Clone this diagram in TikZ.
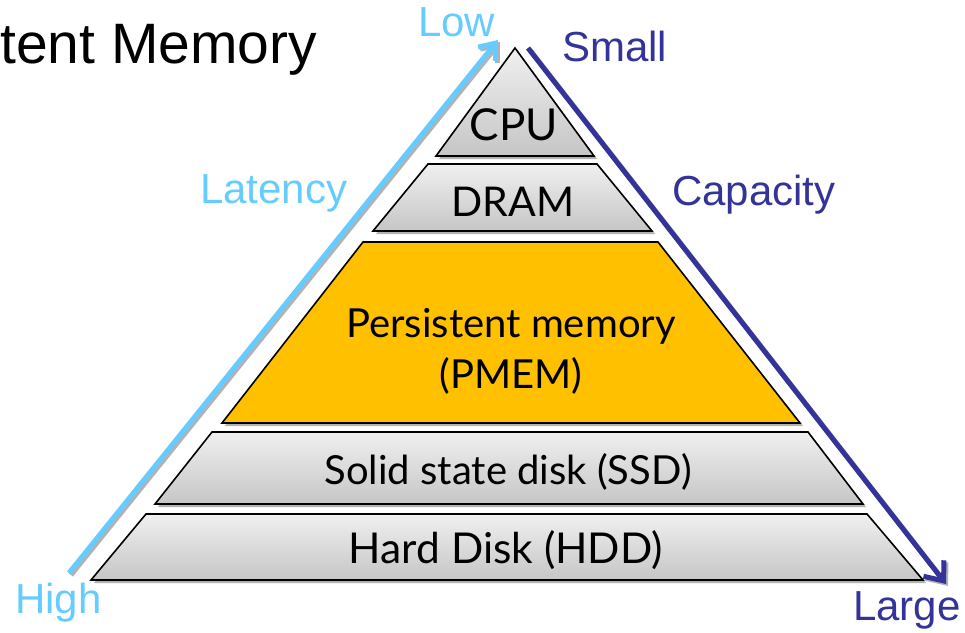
\documentclass[tikz,border=0pt]{standalone}
\usepackage{fontspec}
\setmainfont{Liberation Sans}
\newfontfamily\layerfont{Lato}
\usetikzlibrary{arrows.meta,shadows}
\definecolor{latblue}{HTML}{66CCFF}
\definecolor{capblue}{HTML}{333399}
\definecolor{pmemfill}{HTML}{FFC000}
\tikzset{
  layershape/.style={draw=black, line width=1.6pt, line join=miter,
    drop shadow={shadow xshift=3pt, shadow yshift=-3pt, opacity=0.3, fill=black}},
  graylayer/.style={layershape, top color=gray!12, bottom color=gray!45},
  pmemlayer/.style={layershape, fill=pmemfill},
  layertext/.style={font=\layerfont\fontsize{40}{48}\selectfont, text=black, inner sep=0pt, anchor=base, align=center},
  sidelabel/.style={font=\fontsize{42}{48}\selectfont, inner sep=0pt, anchor=base west},
  axisarrow/.style={line width=5pt, preaction={draw=black!30, line width=5pt, transform canvas={xshift=2pt,yshift=-2pt}}},
}
\begin{document}
\begin{tikzpicture}[x=1pt,y=-1pt]
\useasboundingbox (0,0) rectangle (965,632);
% title (the part that the slide shows)
\node[font=\fontsize{57}{64}\selectfont, inner sep=0pt, anchor=base west] (title) at (0,63) {tent Memory};
% layers
\path[graylayer] (146,514) -- (867,514) -- (923,580) -- (91,580) -- cycle;
\path[graylayer] (212,432) -- (808,432) -- (863,504) -- (155,504) -- cycle;
\path[pmemlayer] (363,242) -- (658,242) -- (800,423) -- (222,423) -- cycle;
\path[graylayer] (428,164) -- (597,164) -- (652,231) -- (373,231) -- cycle;
\path[graylayer] (515,48) -- (594,156) -- (436,156) -- cycle;
% layer texts
\node[layertext, font=\layerfont\fontsize{44}{48}\selectfont] (cpu) at (514,140) {CPU};
\node[layertext, font=\layerfont\fontsize{41}{48}\selectfont] (dram) at (513,216) {DRAM};
\node[layertext] (pmem) at (511,337) {Persistent memory};
\node[layertext] (pmemb) at (511,388) {(PMEM)};
\node[layertext] (ssd) at (508,484) {Solid state disk (SSD)};
\node[layertext, font=\layerfont\fontsize{42.5}{48}\selectfont] (hdd) at (506,563) {Hard Disk (HDD)};
% axes
\coordinate (latlow) at (69,573);
\coordinate (lathigh) at (498,40);
\coordinate (capsmall) at (528,48);
\coordinate (caplarge) at (946,584);
\draw[axisarrow, latblue, -{Straight Barb[length=14pt,width=22pt,line width=5pt]}] (latlow) -- (lathigh);
\draw[axisarrow, capblue, -{Straight Barb[length=16pt,width=26pt,line width=5pt]}] (capsmall) -- (caplarge);
% labels
\node[sidelabel, text=latblue] (low) at (418,36) {Low};
\node[sidelabel, text=latblue] (latency) at (200,203) {Latency};
\node[sidelabel, text=latblue] (high) at (15,613) {High};
\node[sidelabel, text=capblue] (small) at (562,61) {Small};
\node[sidelabel, text=capblue] (capacity) at (672,205) {Capacity};
\node[sidelabel, text=capblue] (large) at (853,620) {Large};
\end{tikzpicture}
\end{document}
